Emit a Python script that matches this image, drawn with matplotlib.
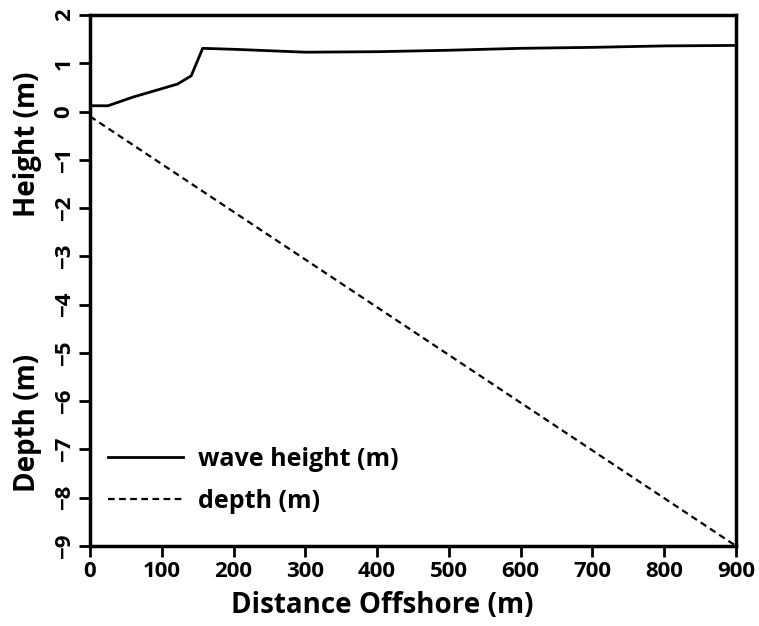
import matplotlib
matplotlib.use('Agg')
from matplotlib import pyplot as plt

# wave height profile
wave_x = [3, 25, 60, 122, 141, 157, 200, 300, 400, 500, 600, 700, 800, 900]
wave_h = [0.12, 0.12, 0.30, 0.57, 0.74, 1.31, 1.29, 1.23, 1.24, 1.27, 1.31, 1.33, 1.36, 1.37]

# sloping bottom
depth_x = [0, 900]
depth_z = [-0.1, -9.0]

x_ticks = [0, 100, 200, 300, 400, 500, 600, 700, 800, 900]
y_ticks = [2, 1, 0, -1, -2, -3, -4, -5, -6, -7, -8, -9]

plt.rcParams['font.family'] = ['Open Sans', 'DejaVu Sans']
plt.rcParams['font.weight'] = 'bold'

fig = plt.figure(figsize=(7.59, 6.26), dpi=100)
ax = fig.add_axes([0.1186, 0.128, 0.851, 0.848])

ax.plot(wave_x, wave_h, color='black', linewidth=2.0, label='wave height (m)')
ax.plot(depth_x, depth_z, color='black', linewidth=1.6, linestyle=(0, (3, 2)), label='depth (m)')

ax.set_xlim(0, 900)
ax.set_ylim(-9, 2)
ax.set_xticks(x_ticks)
ax.set_yticks(y_ticks)
ax.set_xticklabels([str(v) for v in x_ticks], fontsize=16, fontweight='bold')
ax.set_yticklabels([str(v).replace('-', '\u2212') for v in y_ticks], fontsize=16,
                   fontweight='bold', rotation=90, va='center')
ax.tick_params(direction='out', length=8, width=2, pad=3)

for side in ['left', 'bottom', 'top', 'right']:
    ax.spines[side].set_linewidth(2.5)

ax.set_xlabel('Distance Offshore (m)', fontsize=20, fontweight='bold', labelpad=1)
ax.xaxis.set_label_coords(0.452, -0.085)
ax.text(-0.097, (-0.68 + 9) / 11, 'Height (m)', transform=ax.transAxes, rotation=90,
        ha='center', va='center', fontsize=20, fontweight='bold')
ax.text(-0.097, (-6.46 + 9) / 11, 'Depth (m)', transform=ax.transAxes, rotation=90,
        ha='center', va='center', fontsize=20, fontweight='bold')

ax.legend(loc='lower left', bbox_to_anchor=(0.028, 0.06), frameon=False,
          handlelength=3.0, handletextpad=0.6, labelspacing=0.7,
          borderpad=0, borderaxespad=0,
          prop={'weight': 'bold', 'size': 18})

fig.savefig('out.png', dpi=100)
